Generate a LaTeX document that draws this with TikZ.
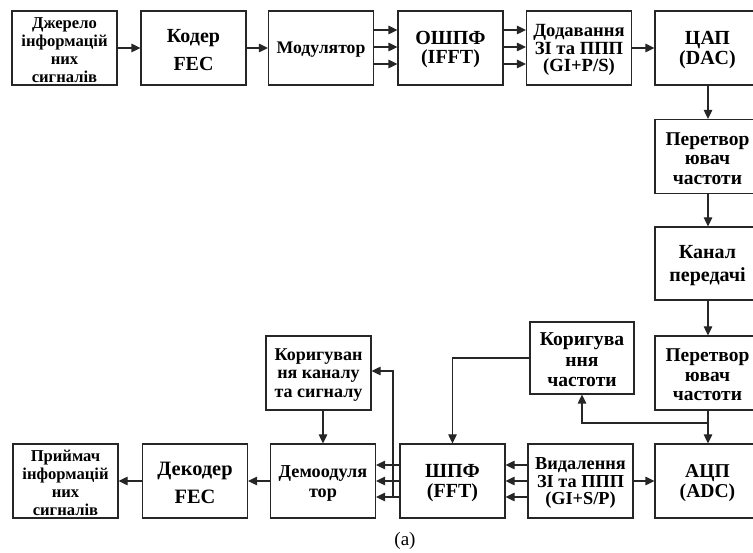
\documentclass[tikz,border=0pt]{standalone}
\usepackage{fontspec}
\setmainfont{Liberation Serif}
\usetikzlibrary{arrows.meta}
% \blk[box options]{name}{x,y}{font size}{line distance}{label}
\newcommand\blk[6][]{%
  \node[box,#1] (#2) at (#3) {};
  \node[txt,fs={#4}{#5}] (#2-t) at ([yshift=-2pt]#2.center) {#6};}
\begin{document}
\begin{tikzpicture}[x=1pt,y=-1pt,
  box/.style={draw=black!85, line width=1.2pt, fill=white,
    inner sep=0pt, minimum width=105pt, minimum height=74pt},
  txt/.style={align=center, inner sep=0pt},
  fs/.style 2 args={font=\bfseries\fontsize{#1}{#2}\selectfont},
  arr/.style={draw=black!85, line width=1.2pt, -{Triangle[length=9pt,width=8.5pt]}}]
\useasboundingbox (0,0) rectangle (753,553);
\clip (0,0) rectangle (753,553);

% transmitter chain
\blk{src}{64.5,48}{16.6}{18.2}{Джерело\\інформацій\\них\\сигналів}
\blk{enc}{193.5,48}{20}{28}{Кодер\\FEC}
\blk{mod}{321,48}{17.7}{20}{Модулятор}
\blk{ifft}{450.5,48}{20}{19}{ОШПФ\\(IFFT)}
\blk{gi}{579,48}{18.6}{17.8}{Додавання\\ЗІ та ППП\\(GI+P/S)}
\blk{dac}{707.5,48}{20}{20}{ЦАП\\(DAC)}

% channel column
\blk{up}{707.5,156.5}{19.5}{19.5}{Перетвор\\ювач\\частоти}
\blk[minimum height=73pt]{chan}{707.5,263.5}{20}{23}{Канал\\передачі}
\blk{down}{707.5,373}{19.5}{19.5}{Перетвор\\ювач\\частоти}

% receiver chain
\blk{adc}{707.5,481}{19.6}{19.5}{АЦП\\(ADC)}
\blk{rgi}{580.5,481}{18.3}{17.8}{Видалення\\ЗІ та ППП\\(GI+S/P)}
\blk{fft}{452.5,481}{20}{19.5}{ШПФ\\(FFT)}
\blk{demod}{323,481}{18.2}{20}{Демоодуля\\тор}
\blk{dec}{195,481}{20.4}{28}{Декодер\\FEC}
\blk{sink}{65.5,481}{16.6}{17.8}{Приймач\\інформацій\\них\\сигналів}

% correction blocks
\blk{corrch}{318.5,373}{18}{18.3}{Коригуван\\ня каналу\\та сигналу}
\blk[minimum width=104pt,minimum height=72pt]{corrf}{582,358}{19.6}{20.5}{Коригува\\ння\\частоти}

% top row links
\draw[arr] (src) -- (enc);
\draw[arr] (enc) -- (mod);
\foreach \yy in {30,47,64}{
  \draw[arr] (mod.east |- 0,\yy) -- (ifft.west |- 0,\yy);
  \draw[arr] (ifft.east |- 0,\yy) -- (gi.west |- 0,\yy);
}
\draw[arr] (gi) -- (dac);

% down the channel column
\draw[arr] (dac.south -| 708,0) -- (up.north -| 708,0);
\draw[arr] (up.south -| 708,0) -- (chan.north -| 708,0);
\draw[arr] (chan.south -| 708,0) -- (down.north -| 708,0);
\draw[arr] (down.south -| 708,0) -- (adc.north -| 708,0);

% frequency correction loop
\coordinate (tapf) at (708,423);
\draw[arr] (tapf) -| (corrf.south);
\draw[arr] (corrf.west) -| (fft.north);

% receiver links
\draw[arr] (rgi) -- (adc);
\foreach \yy in {465,481,497}{
  \draw[arr] (rgi.west |- 0,\yy) -- (fft.east |- 0,\yy);
  \draw[arr] (fft.west |- 0,\yy) -- (demod.east |- 0,\yy);
}
\coordinate (tapc) at (393,497);
\draw[arr] (tapc) |- (corrch.east |- 0,371);
\draw[arr] (corrch.south -| demod.north) -- (demod.north);
\draw[arr] (demod) -- (dec);
\draw[arr] (dec) -- (sink);

\node[font=\fontsize{19}{22}\selectfont] (cap) at (405,541) {(a)};
\end{tikzpicture}
\end{document}
